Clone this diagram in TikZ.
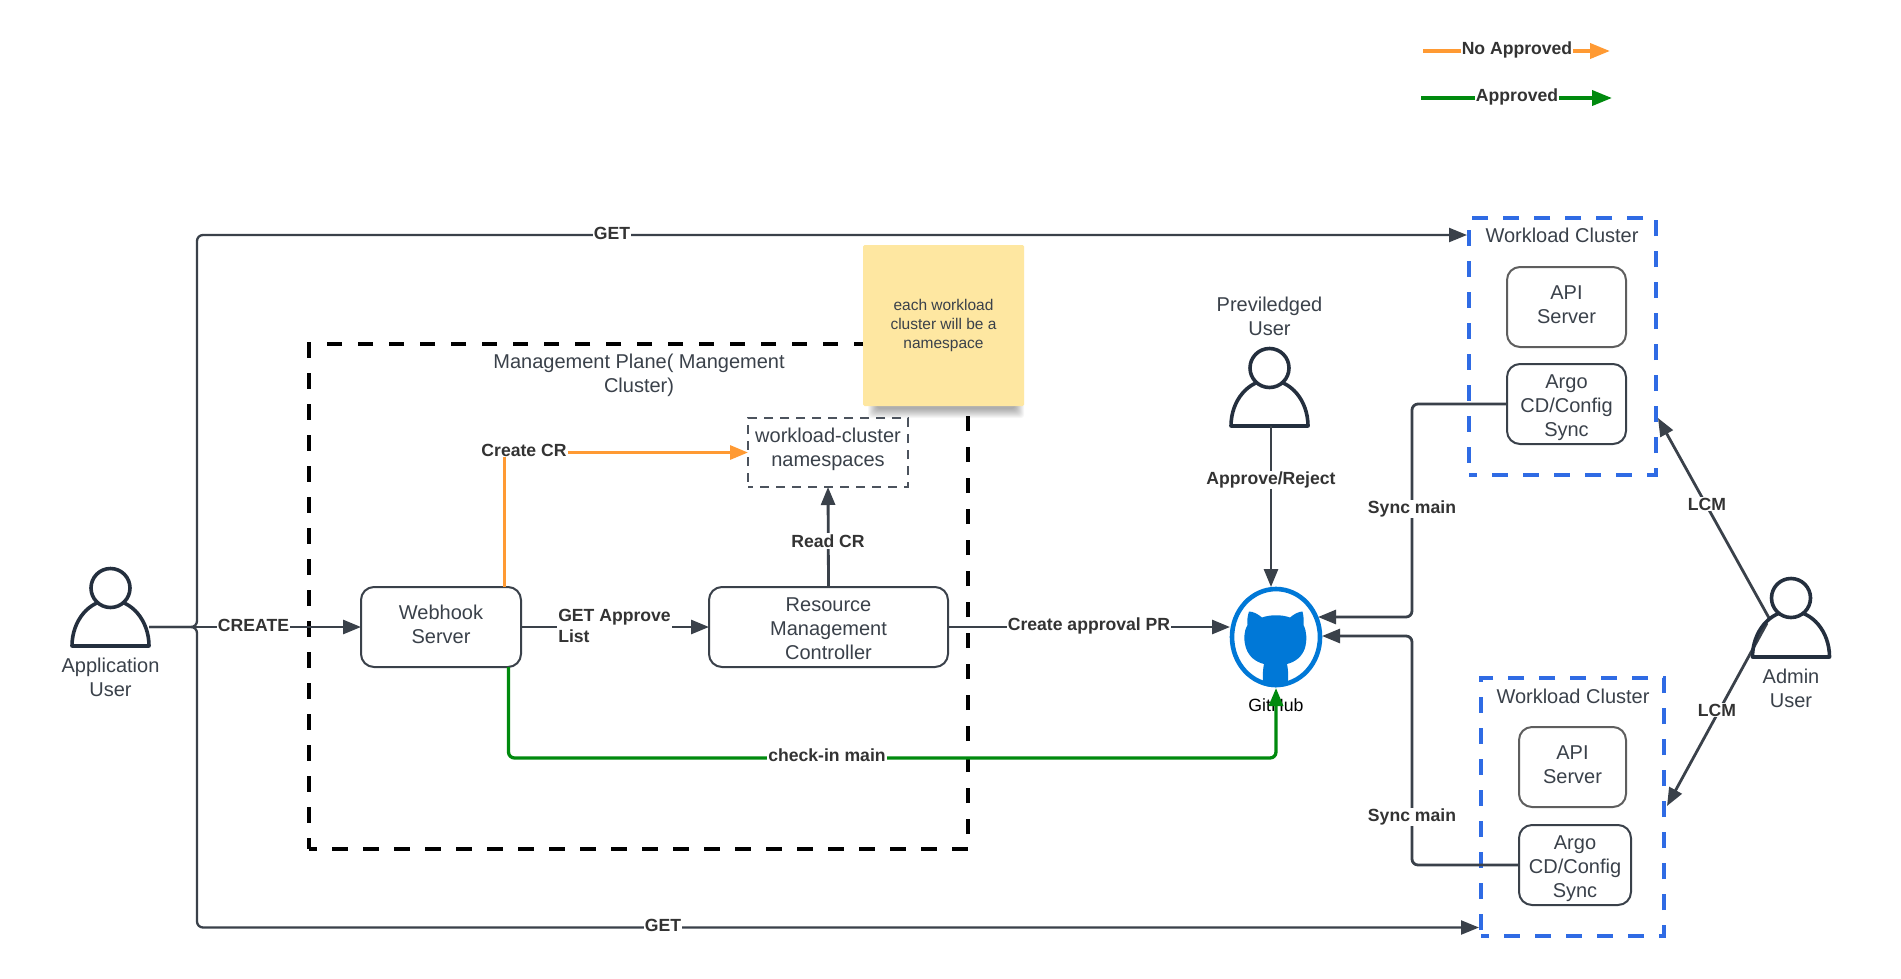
\documentclass[tikz,border=0pt]{standalone}
\usepackage{fontspec}
\setmainfont{Liberation Sans}
\usetikzlibrary{arrows.meta,shapes.geometric,calc}
\definecolor{ink}{HTML}{3A414A}
\definecolor{lbl}{HTML}{333333}
\definecolor{fig}{HTML}{242F3E}
\definecolor{boxgray}{HTML}{5E5E5E}
\definecolor{nsdash}{HTML}{4C535D}
\definecolor{wcblue}{HTML}{2F6BE4}
\definecolor{orangeline}{HTML}{FF9A33}
\definecolor{greenline}{HTML}{008A0E}
\definecolor{notefill}{HTML}{FEE7A1}
\definecolor{ghblue}{HTML}{0078D7}
\tikzset{
  txt/.style={font=\fontsize{20}{24}\selectfont,text=ink,align=center,inner sep=0pt},
  notetxt/.style={font=\fontsize{15.5}{18.7}\selectfont,text=ink,align=center,inner sep=0pt},
  tx/.style 2 args={label={[txt,yshift=#1]center:{#2}}},
  box/.style={draw=ink,line width=2pt,rounded corners=13pt,outer sep=0pt,inner sep=0pt},
  graybox/.style={box,draw=boxgray},
  mgmt/.style={draw=black,line width=4pt,dash pattern=on 15.5pt off 15.5pt,dash phase=8pt,outer sep=0pt},
  wcframe/.style={draw=wcblue,line width=4pt,dash pattern=on 16pt off 15pt,dash phase=8pt,outer sep=0pt},
  nsbox/.style={draw=nsdash,line width=2pt,dash pattern=on 9pt off 7pt,dash phase=4pt,outer sep=0pt,inner sep=0pt},
  lab/.style={font=\fontsize{17.6}{21}\selectfont\bfseries,text=lbl,fill=white,inner sep=1.2pt,align=center},
  conn/.style={draw=ink,line width=2.8pt,-{Triangle[length=18pt,width=14pt]}},
  thinconn/.style={conn,line width=2.3pt},
  orangec/.style={draw=orangeline,line width=3pt,-{Triangle[length=18pt,width=14pt]}},
  greenc/.style={draw=greenline,line width=3.3pt,-{Triangle[length=18pt,width=14pt]}},
  legendo/.style={orangec,line width=3.8pt,-{Triangle[length=20pt,width=15pt]}},
  legendg/.style={greenc,line width=3.8pt,-{Triangle[length=20pt,width=15pt]}},
  figbox/.style={minimum width=77pt,minimum height=38pt,inner sep=0pt,outer sep=0pt},
  figure line/.style={draw=fig,line width=3.6pt,line join=round,fill=white},
}
\newcommand{\personfig}[2]{%
  \draw[figure line] (#1-38.5,#2+58) arc[start angle=180,end angle=0,x radius=38.5pt,y radius=46pt] -- cycle;
  \draw[figure line] (#1,#2) circle[radius=19.5pt];
}
\begin{document}
\begin{tikzpicture}[x=1pt,y=-1pt]
\useasboundingbox (0,0) rectangle (1901,978);
\fill[white] (0,0) rectangle (1901,978);

% frames
\node[mgmt,minimum width=659pt,minimum height=505pt] (mp) at (638.5,596.5) {};
\node[wcframe,minimum width=187pt,minimum height=257pt] (wc1) at (1562.5,346.5) {};
\node[wcframe,minimum width=183pt,minimum height=258pt] (wc2) at (1572.5,807) {};
\node[txt] (mptitle) at (639,375) {Management Plane( Mangement\\Cluster)};
\node[txt] (wc1title) at (1562,235) {Workload Cluster};
\node[txt] (wc2title) at (1573,696) {Workload Cluster};

% note with soft shadow
\foreach \g in {0,1,...,9}{
  \fill[black,opacity=.035,rounded corners=3pt] (868+\g,300) rectangle (1024-\g,418-\g);
}
\node[fill=notefill,minimum width=161pt,minimum height=161pt,rounded corners=1.5pt,inner sep=0pt] (note) at (943.5,325.5) {};
\node[notetxt] (notetext) at (943.5,325.5) {each workload\\cluster will be a\\namespace};

% boxes
\node[box,minimum width=160pt,minimum height=80pt,tx={2.4pt}{Webhook\\Server}] (webhook) at (441,627) {};
\node[box,minimum width=239pt,minimum height=80pt,tx={-2pt}{Resource\\Management\\Controller}] (rmc) at (828.5,627) {};
\node[nsbox,minimum width=160pt,minimum height=69pt,tx={3.6pt}{workload-cluster\\namespaces}] (ns) at (828,452.5) {};
\node[graybox,minimum width=119pt,minimum height=80pt,tx={2.4pt}{API\\Server}] (api1) at (1566.5,307) {};
\node[box,minimum width=119pt,minimum height=80pt,tx={-4pt}{Argo\\CD/Config\\Sync}] (argo1) at (1566.5,404) {};
\node[graybox,minimum width=107pt,minimum height=80pt,tx={2pt}{API\\Server}] (api2) at (1572.5,767) {};
\node[box,minimum width=112pt,minimum height=80pt,tx={-3.6pt}{Argo\\CD/Config\\Sync}] (argo2) at (1575,865) {};

% people
\node[figbox] (appuser) at (110.5,627) {};
\personfig{110.5}{588}
\node[txt] (appuserlabel) at (110.5,677.5) {Application\\User};
\node[figbox] (preuser) at (1269.5,407) {};
\personfig{1269.5}{368}
\node[txt] (preuserlabel) at (1269.5,316.5) {Previledged\\User};
\node[figbox] (admin) at (1791,638) {};
\node[txt] (adminlabel) at (1791,688.5) {Admin\\User};

% GitHub
\node[font=\fontsize{17.7}{21}\selectfont,text=black,inner sep=0pt] (ghlabel) at (1276,705) {GitHub};
\node[ellipse,draw=ghblue,line width=4.6pt,fill=white,minimum width=88pt,minimum height=96pt,inner sep=0pt,outer sep=0pt] (github) at (1276,637) {};
\fill[ghblue] (1249,611.5) .. controls (1253,611.5) and (1258,614) .. (1262,617.5)
  .. controls (1270,614.5) and (1282,614.5) .. (1290,617.5)
  .. controls (1294,614) and (1299,611.5) .. (1302.5,611.5)
  .. controls (1303.5,616) and (1304,620) .. (1303.5,625)
  .. controls (1307,632) and (1307,640) .. (1305,648)
  .. controls (1302,657) and (1295,662) .. (1287,664)
  .. controls (1288,668) and (1288.5,675) .. (1288,685)
  .. controls (1280,688) and (1271,688) .. (1263,685)
  .. controls (1262.5,675) and (1263,668) .. (1264,664)
  .. controls (1256,662) and (1249,657) .. (1246,648)
  .. controls (1243.5,640) and (1243.5,632) .. (1247.5,625)
  .. controls (1247,620) and (1247.5,616) .. (1249,611.5) -- cycle;

% named connector ends
\coordinate (bus) at (197,627);
\coordinate (wc1in) at (1467,235);
\coordinate (wc2in) at (1479,927.5);
\coordinate (orangeup) at (504,452.5);
\coordinate (ghw) at (1230,627);
\coordinate (ghsa) at (1318,617);
\coordinate (ghsb) at (1322,636);
\coordinate (syncx) at (1412,500);
\coordinate (greendown) at (508.5,758);
\coordinate (ghs) at (1276,688);
\coordinate (preout) at (1271,426);
\coordinate (ghn) at (1271,587);
\coordinate (admina) at (1769,618);
\coordinate (adminb) at (1767,623);
\coordinate (wc1e) at (1658,418);
\coordinate (wc2e) at (1667,806);
\coordinate (lgoa) at (1423,51);
\coordinate (lgob) at (1610,51);
\coordinate (lgga) at (1421,98);
\coordinate (lggb) at (1612,98);

% connectors
\draw[thinconn,rounded corners=6pt] (appuser.east) -- (bus) -- (bus |- wc1in) -- (wc1in);
\draw[thinconn,rounded corners=6pt] (appuser.east) -- (bus) -- (bus |- wc2in) -- (wc2in);
\draw[conn] (appuser.east) -- (webhook.west);
\draw[conn] (webhook.east) -- (rmc.west);
\draw[conn] (rmc.east) -- (ghw);
\draw[conn] (rmc.north) -- (ns.south);
\draw[orangec] (orangeup |- webhook.north) -- (orangeup) -- (ns.west);
\draw[greenc,rounded corners=6pt] (greendown |- webhook.south) -- (greendown) -- (ghs |- greendown) -- (ghs);
\draw[conn] (preout) -- (ghn);
\draw[conn,rounded corners=6pt] (argo1.west) -- (syncx |- argo1.west) -- (syncx |- ghsa) -- (ghsa);
\draw[conn,rounded corners=6pt] (argo2.west) -- (syncx |- argo2.west) -- (syncx |- ghsb) -- (ghsb);
\draw[conn] (admina) -- (wc1e);
\draw[conn] (adminb) -- (wc2e);
\draw[legendo] (lgoa) -- (lgob);
\draw[legendg] (lgga) -- (lggb);

% admin figure over its connectors' starts
\draw[draw=fig,line width=3.6pt,line join=round] (1752.5,657) arc[start angle=180,end angle=0,x radius=38.5pt,y radius=46pt] -- cycle;
\draw[figure line] (1791,598) circle[radius=19.5pt];

% connector labels
\node[lab] (lgettop) at (612,233) {GET};
\node[lab] (lgetbot) at (663,925.5) {GET};
\node[lab] (lcreate) at (253.5,625) {CREATE};
\node[lab,align=left] (lgetapp) at (614.5,625.5) {GET Approve\\List};
\node[lab] (lapproval) at (1089,626) {Create approval PR};
\node[lab] (lcheckin) at (827,755) {check-in main};
\node[lab] (lcreatecr) at (524,450) {Create CR};
\node[lab] (lreadcr) at (828,541) {Read CR};
\node[lab] (lapprove) at (1271,480) {Approve/Reject};
\node[lab] (lsynca) at (1412,509) {Sync main};
\node[lab] (lsyncb) at (1412,817) {Sync main};
\node[lab] (llcma) at (1707,504) {LCM};
\node[lab] (llcmb) at (1717,710) {LCM};
\node[lab] (lgno) at (1517,50) {No Approved};
\node[lab] (lgyes) at (1517,96.5) {Approved};
\end{tikzpicture}
\end{document}
